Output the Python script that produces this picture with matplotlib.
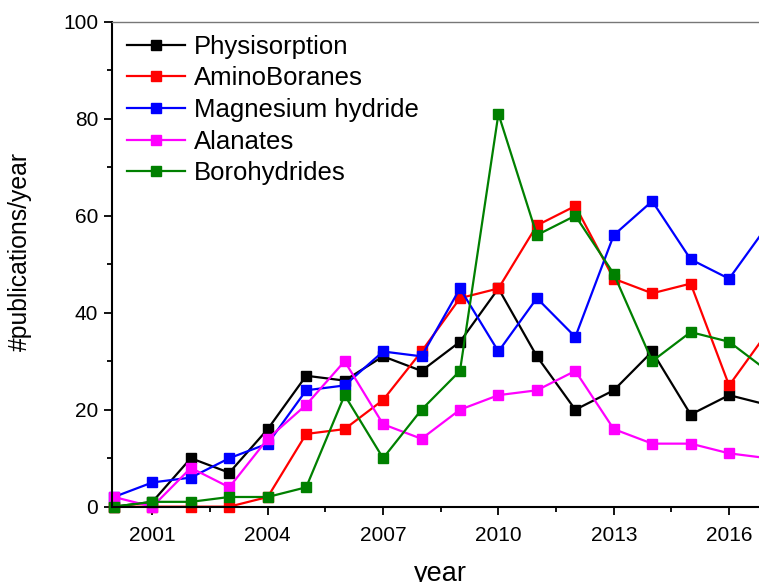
import matplotlib.pyplot as plt
from matplotlib.ticker import MultipleLocator

plt.rcParams['font.family'] = ['Liberation Sans', 'DejaVu Sans']

years = list(range(2000, 2018))

physisorption = [0, 1, 10, 7, 16, 27, 26, 31, 28, 34, 45, 31, 20, 24, 32, 19, 23, 21]
aminoboranes = [0, 0, 0, 0, 2, 15, 16, 22, 32, 43, 45, 58, 62, 47, 44, 46, 25, 36]
mg_hydride = [2, 5, 6, 10, 13, 24, 25, 32, 31, 45, 32, 43, 35, 56, 63, 51, 47, 58]
alanates = [2, 0, 8, 4, 14, 21, 30, 17, 14, 20, 23, 24, 28, 16, 13, 13, 11, 10]
borohydrides = [0, 1, 1, 2, 2, 4, 23, 10, 20, 28, 81, 56, 60, 48, 30, 36, 34, 28]

series = [
    ("Physisorption", physisorption, "black"),
    ("AminoBoranes", aminoboranes, "#ff0000"),
    ("Magnesium hydride", mg_hydride, "#0000ff"),
    ("Alanates", alanates, "#ff00ff"),
    ("Borohydrides", borohydrides, "#008000"),
]

fig = plt.figure(figsize=(7.59, 5.82), dpi=100)
# the original figure is cut off on the right, so the axes run past the edge
ax = fig.add_axes([0.1476, 0.1294, 0.889, 0.8333])

for name, vals, col in series:
    ax.plot(years, vals, color=col, lw=1.6, marker='s', markersize=7.5,
            label=name, clip_on=False)

ax.set_xlim(1999.95, 2017.5)
ax.set_ylim(0, 100)

ax.set_xticks([2001, 2004, 2007, 2010, 2013, 2016])
ax.xaxis.set_minor_locator(MultipleLocator(1.5))
ax.yaxis.set_major_locator(MultipleLocator(20))
ax.yaxis.set_minor_locator(MultipleLocator(10))

ax.tick_params(which='major', direction='out', length=6, width=1.3, labelsize=15)
ax.tick_params(axis='x', which='major', pad=8)
ax.tick_params(axis='y', which='major', pad=4)
ax.tick_params(which='minor', direction='out', length=3.5, width=1.3)

for s in ['left', 'bottom']:
    ax.spines[s].set_linewidth(1.5)
ax.spines['top'].set_color('#777777')
ax.spines['top'].set_linewidth(1.0)

ax.set_xlabel("year", fontsize=19.5)
ax.set_ylabel("#publications/year", fontsize=17.8)
ax.xaxis.set_label_coords(0.486, -0.112)
ax.yaxis.set_label_coords(-0.119, 0.527)

ax.legend(loc='upper left', bbox_to_anchor=(0.003, 1.0), frameon=False,
          fontsize=18.5, handlelength=2.25, handletextpad=0.35, labelspacing=0.3,
          borderaxespad=0.1)

fig.savefig("out.png", dpi=100)
